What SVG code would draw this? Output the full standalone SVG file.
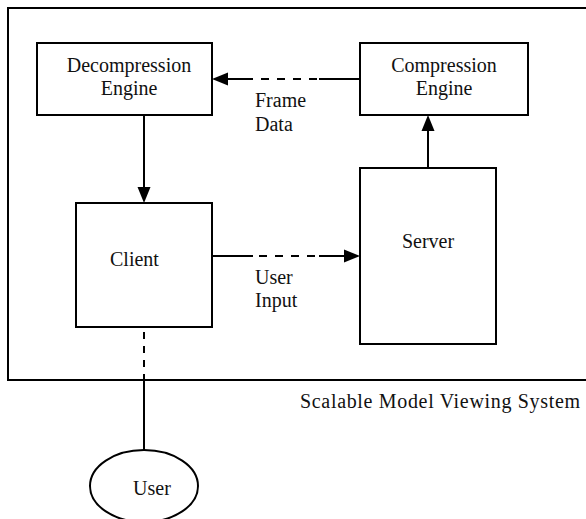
<svg xmlns="http://www.w3.org/2000/svg" width="586" height="519" viewBox="0 0 586 519">
  <style>
    .box { fill: #fff; stroke: #000; stroke-width: 2; }
    .frame { fill: none; stroke: #000; stroke-width: 2; }
    .lbl { font-family: "Liberation Serif", "Times New Roman", serif; font-size: 20px; fill: #111; }
    .mid { text-anchor: middle; }
    .ln { stroke: #000; stroke-width: 2; fill: none; }
    .dash { stroke: #000; stroke-width: 2; fill: none; stroke-dasharray: 8 8; }
    .dash7 { stroke: #000; stroke-width: 2; fill: none; stroke-dasharray: 7 7; }
  </style>
  <defs>
    <marker id="head" markerUnits="userSpaceOnUse" markerWidth="16" markerHeight="14" refX="0" refY="7" orient="auto" viewBox="0 0 16 14">
      <path d="M0,0.5 L16,7 L0,13.5 z" fill="#000"/>
    </marker>
  </defs>

  <rect fill="#fff" x="0" y="0" width="586" height="519"/>

  <!-- system boundary -->
  <g id="system">
    <rect class="frame" x="8" y="8" width="590" height="372"/>
    <text class="lbl" x="300" y="408" textLength="280" lengthAdjust="spacing">Scalable Model Viewing System</text>
  </g>

  <g id="decompression">
    <rect class="box" x="37" y="43" width="175" height="72"/>
    <text class="lbl mid" x="129" y="72">Decompression</text>
    <text class="lbl mid" x="129" y="95">Engine</text>
  </g>

  <g id="compression">
    <rect class="box" x="360" y="43" width="168" height="72"/>
    <text class="lbl mid" x="444" y="72">Compression</text>
    <text class="lbl mid" x="444" y="95">Engine</text>
  </g>

  <g id="client">
    <rect class="box" x="76" y="203" width="136" height="124"/>
    <text class="lbl" x="110" y="266">Client</text>
  </g>

  <g id="server">
    <rect class="box" x="360" y="168" width="136" height="176"/>
    <text class="lbl mid" x="428" y="248">Server</text>
  </g>

  <g id="user">
    <ellipse class="box" cx="144" cy="486" rx="54" ry="36"/>
    <text class="lbl mid" x="152" y="495">User</text>
  </g>

  <g id="connectors">
    <!-- frame data: compression to decompression -->
    <line class="ln" x1="360" y1="79" x2="319" y2="79"/>
    <line class="dash" x1="317" y1="79" x2="261" y2="79"/>
    <line class="ln" x1="253" y1="79" x2="228" y2="79" marker-end="url(#head)"/>
    <text class="lbl" x="255" y="107">Frame</text>
    <text class="lbl" x="255" y="131">Data</text>

    <!-- decompression to client -->
    <line class="ln" x1="144" y1="115" x2="144" y2="187" marker-end="url(#head)"/>

    <!-- user input: client to server -->
    <line class="ln" x1="212" y1="256" x2="253" y2="256"/>
    <line class="dash" x1="259" y1="256" x2="315" y2="256"/>
    <line class="ln" x1="319" y1="256" x2="344" y2="256" marker-end="url(#head)"/>
    <text class="lbl" x="255" y="284">User</text>
    <text class="lbl" x="255" y="307">Input</text>

    <!-- server to compression -->
    <line class="ln" x1="428" y1="168" x2="428" y2="131" marker-end="url(#head)"/>

    <!-- client to user -->
    <line class="dash7" x1="144" y1="332" x2="144" y2="379"/>
    <line class="ln" x1="144" y1="380" x2="144" y2="450"/>
  </g>
</svg>
